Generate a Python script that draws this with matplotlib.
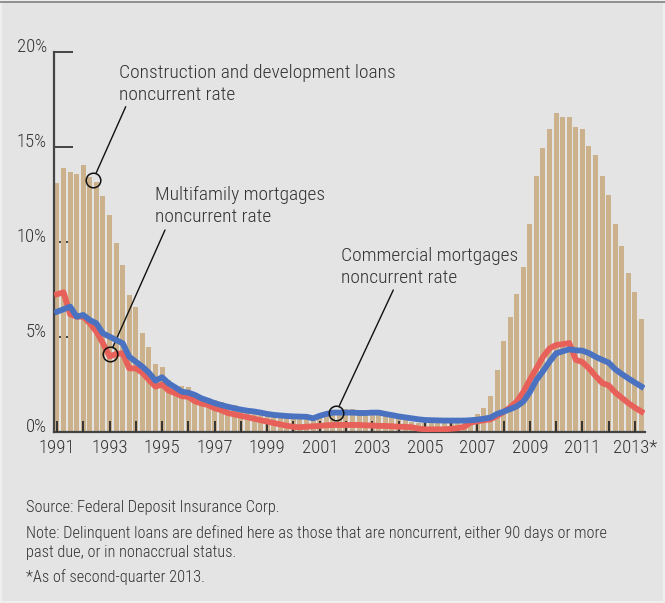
import numpy as np
import matplotlib
matplotlib.use('Agg')
import matplotlib.pyplot as plt

# quarterly noncurrent rates, 1991 Q1 .. 2013 Q2 (percent)
start_year = 1991
construction = [13.1, 13.9, 13.7, 13.6, 14.05, 13.4, 13.15, 12.4, 11.4, 9.95,
                8.8, 7.2, 6.6, 5.2, 4.5, 3.6, 3.4, 2.75, 2.4, 2.4,
                2.35, 1.95, 1.86, 1.8, 1.7, 1.6, 1.5, 1.4, 1.25, 1.15,
                1.05, 0.95, 0.9, 0.85, 0.8, 0.75, 0.7, 0.7, 0.7, 0.75,
                0.8, 0.9, 1.0, 1.1, 1.2, 1.2, 1.16, 1.15, 1.1, 1.0,
                0.95, 0.85, 0.7, 0.65, 0.55, 0.5, 0.45, 0.45, 0.45, 0.45,
                0.45, 0.5, 0.6, 0.72, 0.95, 1.28, 1.9, 3.26, 4.8, 6.07,
                7.26, 8.68, 10.95, 13.47, 14.95, 15.93, 16.77, 16.58, 16.58, 16.05,
                15.95, 15.05, 14.58, 13.47, 12.47, 10.95, 9.81, 8.39, 7.39, 5.96]
multifamily = [7.25, 7.35, 6.2, 6.07, 6.07, 5.72, 5.28, 4.67, 3.98, 4.1,
               4.15, 3.35, 3.35, 3.12, 2.74, 2.39, 2.5, 2.18, 2.04, 1.89,
               1.85, 1.62, 1.5, 1.42, 1.25, 1.15, 1.0, 0.93, 0.85, 0.78,
               0.7, 0.62, 0.55, 0.47, 0.4, 0.33, 0.27, 0.25, 0.28, 0.3,
               0.32, 0.35, 0.37, 0.37, 0.37, 0.37, 0.37, 0.35, 0.34, 0.32,
               0.32, 0.3, 0.28, 0.27, 0.25, 0.18, 0.14, 0.14, 0.14, 0.14,
               0.17, 0.2, 0.27, 0.5, 0.56, 0.62, 0.67, 0.85, 1.05, 1.3,
               1.6, 2.1, 2.75, 3.35, 3.95, 4.4, 4.58, 4.62, 4.68, 3.8,
               3.68, 3.35, 2.95, 2.58, 2.45, 2.08, 1.8, 1.52, 1.28, 1.07]
commercial = [6.33, 6.46, 6.6, 6.07, 6.16, 5.89, 5.72, 5.19, 5.02, 4.84,
              4.67, 3.96, 3.7, 3.44, 3.12, 2.7, 2.88, 2.56, 2.35, 2.12,
              2.07, 1.95, 1.77, 1.65, 1.52, 1.42, 1.33, 1.25, 1.18, 1.12,
              1.08, 1.02, 0.95, 0.9, 0.87, 0.84, 0.82, 0.81, 0.8, 0.72,
              0.85, 0.95, 1.02, 1.02, 1.02, 1.02, 1.0, 1.0, 1.02, 1.02,
              0.95, 0.89, 0.82, 0.77, 0.72, 0.67, 0.63, 0.62, 0.61, 0.6,
              0.6, 0.6, 0.6, 0.62, 0.65, 0.7, 0.76, 0.95, 1.07, 1.2,
              1.35, 1.6, 2.1, 2.74, 3.2, 3.7, 4.14, 4.25, 4.35, 4.3,
              4.28, 4.15, 3.96, 3.8, 3.65, 3.3, 3.05, 2.82, 2.6, 2.39]

years = list(range(1991, 2014))
year_labels = [str(y) if y % 2 == 1 else '' for y in years]
year_labels[-1] = '2013*'
y_ticks = [0, 5, 10, 15, 20]
y_labels = ['0%', '5%', '10%', '15%', '20%']

bg = '#e4e4e4'
bar_color = '#cbb28c'
red = '#e8605a'
blue = '#4a72c0'
ink = '#333333'

plt.rcParams['font.family'] = ['Roboto Condensed', 'DejaVu Sans']
plt.rcParams['font.weight'] = 300

W, H = 665, 603
fig = plt.figure(figsize=(W / 100, H / 100), dpi=100, facecolor='#efefef')
# gray panel inside a thin light frame
fig.add_artist(plt.Rectangle((2 / W, 2 / H), 661 / W, 599 / H, color=bg,
                             lw=0, transform=fig.transFigure, zorder=-1))
fig.add_artist(plt.Line2D([0, 1], [1 - 1.5 / H, 1 - 1.5 / H], color='#8f8f8f',
                          lw=1.4, transform=fig.transFigure))

ax = fig.add_axes([54 / W, 1 - 432 / H, (645 - 54) / W, 380 / H])
ax.set_facecolor(bg)

q = start_year + np.arange(len(construction)) / 4.0

ax.bar(q, construction, width=0.19, color=bar_color, zorder=1)
ax.plot(q, multifamily, color=red, lw=4.2, solid_joinstyle='round', zorder=3)
ax.plot(q, commercial, color=blue, lw=4.2, solid_joinstyle='round', zorder=3.2)

ax.set_xlim(1990.886, 2013.383)
ax.set_ylim(0, 20)

for s in ['top', 'right']:
    ax.spines[s].set_visible(False)
for s in ['left', 'bottom']:
    ax.spines[s].set_color('#444444')
    ax.spines[s].set_linewidth(1.6)

ax.set_xticks(years)
ax.set_xticklabels(year_labels)
ax.set_yticks(y_ticks)
ax.set_yticklabels(y_labels)
ax.tick_params(axis='x', direction='in', length=8, width=1.4, color='#333333',
               pad=5, labelsize=13.5, labelcolor=ink)
ax.tick_params(axis='y', direction='in', length=14, width=1.4, color='#444444',
               pad=5, labelsize=13.5, labelcolor=ink)
for lab in ax.get_yticklabels():
    lab.set_va('baseline')

# y ticks sit behind the bars, x ticks on top of them
ax.set_axisbelow(True)
ax.xaxis.set_zorder(2.6)


def px(x, y):
    return x / W, 1 - y / H


# annotation text (lines + baselines), circle point, leader start
notes = [
    (['Construction and development loans', 'noncurrent rate'], 119, [77.5, 99.5],
     ((q[5] + q[6]) / 2, (construction[5] + construction[6]) / 2), (125.7, 106.7)),
    (['Multifamily mortgages', 'noncurrent rate'], 155, [200.5, 222],
     (q[8], multifamily[8] + 0.1), (165, 230)),
    (['Commercial mortgages', 'noncurrent rate'], 341, [261, 283],
     ((q[42] + q[43]) / 2, commercial[42]), (393.3, 290)),
]
for lines, tx, baselines, xy, lpos in notes:
    for line, by in zip(lines, baselines):
        fig.text(*px(tx, by), line, fontsize=14, color=ink, va='baseline',
                 ha='left')
    ax.plot(*xy, marker='o', ms=10.5, mfc='none', mec='#111111', mew=1.1,
            zorder=5)
    ax.annotate('', xy=xy, xytext=(lpos[0], H - lpos[1]),
                textcoords='figure pixels',
                arrowprops=dict(arrowstyle='-', color='#111111', lw=1.0,
                                shrinkA=0, shrinkB=5.5))

footer = [
    ('Source: Federal Deposit Insurance Corp.', 511.7),
    ('Note: Delinquent loans are defined here as those that are noncurrent, '
     'either 90 days or more', 538.3),
    ('past due, or in nonaccrual status.', 556.7),
    ('*As of second-quarter 2013.', 581.7),
]
for line, by in footer:
    fig.text(*px(26.5, by), line, fontsize=11.8, color=ink, va='baseline')

fig.savefig('out.png', dpi=100, facecolor='#efefef')
